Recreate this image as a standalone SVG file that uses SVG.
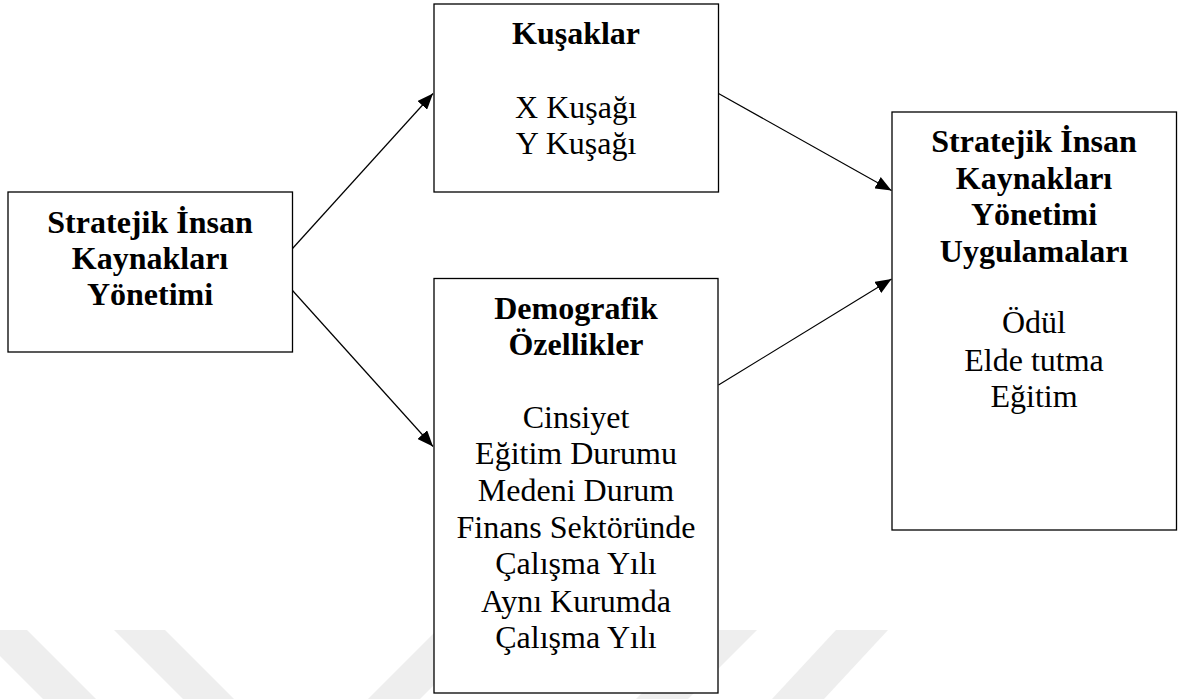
<svg xmlns="http://www.w3.org/2000/svg" width="1192" height="699" viewBox="0 0 1192 699">
  <style>
    .box { fill: #ffffff; stroke: #000000; stroke-width: 1.3; }
    .edge { fill: none; stroke: #000000; stroke-width: 1.2; }
    .wm { fill: #eeeeee; }
    .lbl { font-family: "Liberation Serif", "Times New Roman", serif; font-size: 32px; fill: #000000; text-anchor: middle; }
    .b { font-weight: bold; }
  </style>
  <defs>
    <marker id="arrow" markerUnits="userSpaceOnUse" markerWidth="17" markerHeight="13" refX="16" refY="6.5" orient="auto">
      <path d="M0,0 L16,6.5 L0,13 z" fill="#000000"/>
    </marker>
  </defs>

  <rect width="1192" height="699" fill="#ffffff"/>

  <!-- faint background stripes -->
  <g id="watermark">
    <polygon class="wm" points="-26,630 27,630 96,699 43,699"/>
    <polygon class="wm" points="114,630 165,630 234,699 183,699"/>
    <polygon class="wm" points="437,630 489,630 420,699 368,699"/>
    <polygon class="wm" points="705,630 757,630 688,699 636,699"/>
    <polygon class="wm" points="836,630 888,630 824,699 772,699"/>
  </g>

  <g id="connectors">
    <line class="edge" x1="292.5" y1="248.5" x2="433" y2="93.5" marker-end="url(#arrow)"/>
    <line class="edge" x1="292.5" y1="290.5" x2="433" y2="446.5" marker-end="url(#arrow)"/>
    <line class="edge" x1="718.5" y1="93.5" x2="891.5" y2="190.5" marker-end="url(#arrow)"/>
    <line class="edge" x1="718.5" y1="385" x2="891.5" y2="279" marker-end="url(#arrow)"/>
  </g>

  <g id="sikyonetimi">
    <rect class="box" x="8" y="192" width="284.5" height="160"/>
    <text class="lbl b" x="150" y="233">Stratejik İnsan</text>
    <text class="lbl b" x="150" y="269">Kaynakları</text>
    <text class="lbl b" x="150" y="305">Yönetimi</text>
  </g>

  <g id="kusaklar">
    <rect class="box" x="434" y="4" width="284.5" height="188"/>
    <text class="lbl b" x="576" y="44">Kuşaklar</text>
    <text class="lbl" x="576" y="117.5">X Kuşağı</text>
    <text class="lbl" x="576" y="153.5">Y Kuşağı</text>
  </g>

  <g id="demografik">
    <rect class="box" x="434" y="278.5" width="284" height="414.5"/>
    <text class="lbl b" x="576" y="318.5">Demografik</text>
    <text class="lbl b" x="576" y="355">Özellikler</text>
    <text class="lbl" x="576" y="427.5">Cinsiyet</text>
    <text class="lbl" x="576" y="464.3">Eğitim Durumu</text>
    <text class="lbl" x="576" y="500.8">Medeni Durum</text>
    <text class="lbl" x="576" y="537.6">Finans Sektöründe</text>
    <text class="lbl" x="576" y="574.2">Çalışma Yılı</text>
    <text class="lbl" x="576" y="611.5">Aynı Kurumda</text>
    <text class="lbl" x="576" y="648.3">Çalışma Yılı</text>
  </g>

  <g id="uygulamalar">
    <rect class="box" x="892" y="112" width="284.5" height="418"/>
    <text class="lbl b" x="1034" y="152.3">Stratejik İnsan</text>
    <text class="lbl b" x="1034" y="189">Kaynakları</text>
    <text class="lbl b" x="1034" y="225.3">Yönetimi</text>
    <text class="lbl b" x="1034" y="261.8">Uygulamaları</text>
    <text class="lbl" x="1034" y="333.3">Ödül</text>
    <text class="lbl" x="1034" y="370.5">Elde tutma</text>
    <text class="lbl" x="1034" y="407.3">Eğitim</text>
  </g>
</svg>
